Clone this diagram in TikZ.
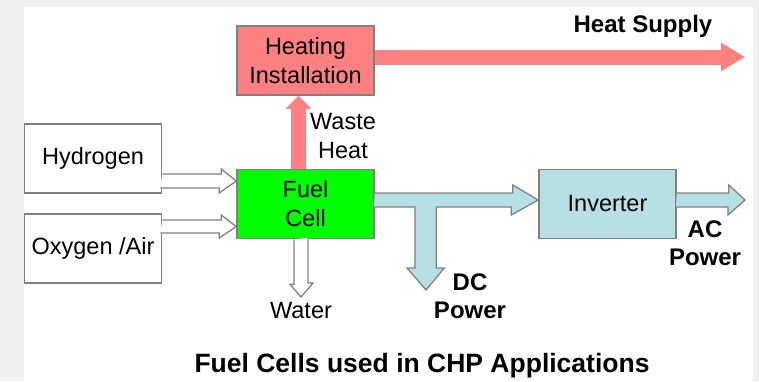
\documentclass[tikz,border=0pt]{standalone}
\usepackage{fontspec}
\setmainfont{Liberation Sans}
\usetikzlibrary{arrows.meta}
\definecolor{heatred}{RGB}{255,128,128}
\definecolor{cellgreen}{RGB}{0,255,0}
\definecolor{dcblue}{RGB}{183,224,228}
\definecolor{edgegray}{RGB}{128,128,128}
\definecolor{panelgray}{RGB}{240,240,240}

\begin{document}
\begin{tikzpicture}[x=1pt,y=1pt,
        box/.style={draw=edgegray, line width=1.5pt, minimum width=137pt, minimum height=69pt,
            inner sep=0pt, align=center, font=\fontsize{23.5}{29}\selectfont},
        heatflow/.style={draw=heatred, line width=15pt},
        hollow/.style={draw=edgegray, fill=white, line width=1.3pt},
        dcflow/.style={draw=edgegray, fill=dcblue, line width=1.3pt},
        lbl/.style={align=center, font=\fontsize{23.5}{29}\selectfont},
        blbl/.style={align=center, font=\bfseries\fontsize{24}{28}\selectfont}]

        \fill[panelgray] (0,0) rectangle (759,-381);
        \fill[white] (24,-7) rectangle (753,-381);

        % bloky
        \node[box, fill=heatred] (heat) at (305.5,-60.5) {Heating\\Installation};
        \node[box, fill=white] (h2) at (93,-158.5) {Hydrogen};
        \node[box, fill=white] (o2) at (93,-248.5) {Oxygen /Air};
        \node[box, fill=cellgreen] (fc) at (305.5,-204) {Fuel\\Cell};
        \node[box, fill=dcblue] (inv) at (607.5,-204) {Inverter};

        % teplo
        \coordinate (hs) at (745,-57);
        \draw[heatflow, -{Triangle[width=27pt,length=24pt]}] (heat.east |- hs) -- (hs);
        \draw[heatflow, -{Triangle[width=25pt,length=13pt]}]
            ([xshift=-7pt]fc.north) -- ([xshift=-7pt]heat.south);

        % vstupy a voda
        \draw[hollow] ([yshift=-15.5pt]h2.east) -- ++(59,0) -- ++(0,5)
            -- ([yshift=23pt]fc.west) -- ++(-17,-12) -- ++(0,5) -- ++(-59,0);
        \draw[hollow] ([yshift=28.5pt]o2.east) -- ++(59,0) -- ++(0,5)
            -- ([yshift=-22.5pt]fc.west) -- ++(-17,-11.5) -- ++(0,5) -- ++(-59,0);
        \coordinate (wt) at (301,-297);
        \draw[hollow] ([xshift=-11.5pt]fc.south) -- ++(0,-45) -- ++(-4,0)
            -- (wt) -- ++(12,14) -- ++(-5,0) -- ++(0,45);

        % elektrina
        \coordinate (dct) at (426,-290);
        \draw[dcflow] ([yshift=11pt]fc.east) -- ++(138,0) -- ++(0,8)
            -- ([yshift=4pt]inv.west) -- ++(-27,-15) -- ++(0,8) -- ++(-75,0)
            -- ++(0,-61) -- ++(8,0) -- (dct) -- ++(-19,22) -- ++(8,0)
            -- ++(0,61) -- ++(-41,0);
        \coordinate (act) at (745,-200);
        \draw[dcflow] ([yshift=11pt]inv.east) -- ++(52,0) -- ++(0,8)
            -- (act) -- ++(-17,-15) -- ++(0,8) -- ++(-52,0);

        % popisky
        \node[blbl] (hslbl) at (643,-26) {Heat Supply};
        \node[lbl] (wastelbl) at (343,-136) {Waste\\Heat};
        \node[lbl] (waterlbl) at (301,-311) {Water};
        \node[blbl] (dclbl) at (470,-296) {DC\\Power};
        \node[blbl] (aclbl) at (705,-243) {AC\\Power};
        \node[anchor=base, font=\bfseries\fontsize{26.5}{30}\selectfont] (title)
            at (422,-372) {Fuel Cells used in CHP Applications};

    \end{tikzpicture}
\end{document}
